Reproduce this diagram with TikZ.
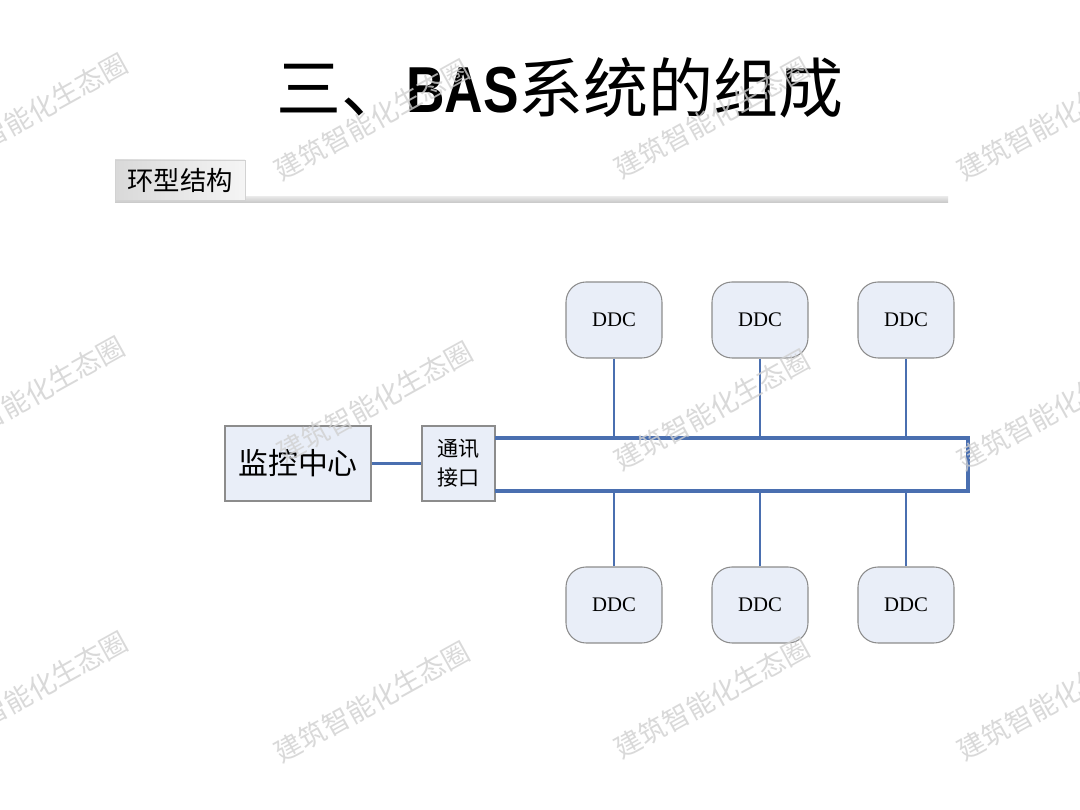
\documentclass[tikz,border=0pt]{standalone}
\usepackage{fontspec}
\setmainfont{Liberation Serif}
\newfontfamily\cjk{Noto Sans CJK SC}
\newfontfamily\latinsans{Liberation Sans}
\definecolor{boxfill}{HTML}{E9EEF8}
\definecolor{boxline}{HTML}{8C8C8C}
\definecolor{netblue}{HTML}{4A6FB0}
\definecolor{wmgray}{HTML}{D0D0D0}
\tikzset{
  plainbox/.style={draw=boxline, line width=0.6pt, fill=boxfill, inner sep=0pt, align=center},
  ddcbox/.style={plainbox, rounded corners=0.4cm, minimum width=1.92cm, minimum height=1.52cm, font=\fontsize{11.8}{13}\selectfont},
  thinlink/.style={draw=netblue, line width=1.2pt},
  ringline/.style={draw=netblue, line width=2pt},
  watermark/.style={text=wmgray, rotate=29, font=\cjk\fontsize{15.5}{17}\selectfont, opacity=0.8}
}
\begin{document}
\begin{tikzpicture}[x=0.02cm,y=-0.02cm]
\useasboundingbox (0,0) rectangle (1080,810);
\fill[white] (0,0) rectangle (1080,810);

% title
\node (title) at (560,88) {\cjk\fontsize{37}{40}\selectfont 三、{\latinsans\bfseries\fontsize{37}{40}\selectfont\addfontfeature{FakeStretch=0.82}BAS}系统的组成};

% section bar
\shade[top color=gray!20, bottom color=gray!45] (115,197) rectangle (948,203);
\node[draw=gray!35, line width=0.4pt, left color=gray!30, right color=gray!8, minimum width=2.6cm, minimum height=0.8cm, inner sep=0pt, font=\cjk\fontsize{15}{17}\selectfont] (sect) at (180,180) {环型结构};

% main boxes
\node[plainbox, minimum width=2.92cm, minimum height=1.5cm, font=\cjk\fontsize{17}{20}\selectfont] (mon) at (298,463.5) {监控中心};
\node[plainbox, minimum width=1.46cm, minimum height=1.5cm, font=\cjk\fontsize{12}{16.5}\selectfont] (iface) at (458.5,463.5) {通讯\\接口};
\draw[thinlink] (mon.east) -- (iface.west);

% ring
\coordinate (rtl) at (495,438);
\coordinate (rtr) at (968,438);
\coordinate (rbr) at (968,491);
\coordinate (rbl) at (495,491);
\draw[ringline, line join=miter] (rtl) -- (rtr) -- (rbr) -- (rbl);

% DDC nodes
\node[ddcbox] (d1) at (614,320) {DDC};
\node[ddcbox] (d2) at (760,320) {DDC};
\node[ddcbox] (d3) at (906,320) {DDC};
\node[ddcbox] (d4) at (614,605) {DDC};
\node[ddcbox] (d5) at (760,605) {DDC};
\node[ddcbox] (d6) at (906,605) {DDC};
\foreach \n in {d1,d2,d3} \draw[thinlink] (\n.south) -- (\n.south |- rtl);
\foreach \n in {d4,d5,d6} \draw[thinlink] (\n.north) -- (\n.north |- rbl);

% watermarks
\foreach \p/\k in {(30,114)/w1,(372,120)/w2,(712,118)/w3,(1055,120)/w4,
                   (27,397)/w5,(375,402)/w6,(712,410)/w7,(1055,410)/w8,
                   (30,692)/w9,(372,702)/w10,(712,698)/w11,(1055,700)/w12}
  \node[watermark] (\k) at \p {建筑智能化生态圈};
\end{tikzpicture}
\end{document}
